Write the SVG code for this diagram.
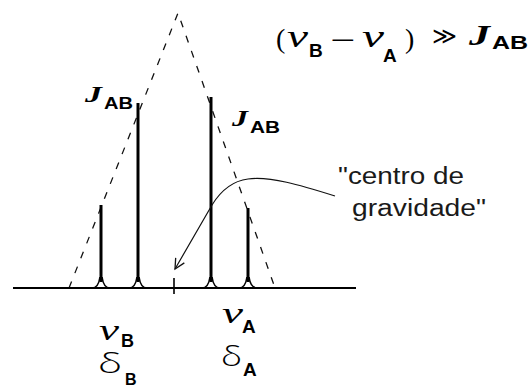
<svg xmlns="http://www.w3.org/2000/svg" width="530" height="387" viewBox="0 0 530 387">
<defs>
<style>
.serif{font-family:"Liberation Serif","Times New Roman",serif;fill:#000}
.it{font-style:italic}
.bi{font-style:italic;font-weight:bold}
.delta{font-family:"Open Sans","Liberation Sans",sans-serif;font-weight:300;fill:#000}
.sub{font-family:"Liberation Sans",Arial,sans-serif;font-weight:bold;fill:#000}
.lbl{font-family:"Liberation Sans",Arial,sans-serif;font-size:23px;fill:#1a1a1a}
.peak{fill:none;stroke:#000;stroke-width:3;stroke-linejoin:round}
.flare{fill:none;stroke:#000;stroke-width:1.6}
.env{fill:none;stroke:#111;stroke-width:1.3;stroke-dasharray:7 9}
</style>
<marker id="open" markerWidth="14" markerHeight="14" refX="11" refY="7" orient="auto" markerUnits="userSpaceOnUse">
<path d="M1,2 L11,7 L1,12" fill="none" stroke="#111" stroke-width="1.3"/>
</marker>
</defs>
<rect width="530" height="387" fill="#fff"/>

<g id="envelope">
<path class="env" d="M69,288 L178,13 L275,288"/>
</g>

<g id="spectrum">
<line x1="13" y1="288" x2="356" y2="288" stroke="#000" stroke-width="2"/>
<line x1="174" y1="278" x2="174" y2="294" stroke="#000" stroke-width="1.6"/>
<g id="peak-B1">
<path class="flare" d="M92,288 C97,288 99,284 100,277 M110,288 C105,288 103,284 102,277"/>
<line class="peak" x1="101" y1="205" x2="101" y2="282"/>
</g>
<g id="peak-B2">
<path class="flare" d="M129,288 C134,288 136,284 137,277 M147,288 C142,288 140,284 139,277"/>
<line class="peak" x1="138" y1="103" x2="138" y2="282"/>
</g>
<g id="peak-A1">
<path class="flare" d="M202,288 C207,288 209,284 210,277 M220,288 C215,288 213,284 212,277"/>
<line class="peak" x1="211" y1="97" x2="211" y2="282"/>
</g>
<g id="peak-A2">
<path class="flare" d="M239,288 C244,288 246,284 247,277 M257,288 C252,288 250,284 249,277"/>
<line class="peak" x1="248" y1="208" x2="248" y2="282"/>
</g>
</g>

<g id="connectors">
<path d="M335,196 C300,185 270,176 248,179 C232,181 220,192 212,205 L175,269" fill="none" stroke="#111" stroke-width="1.2" marker-end="url(#open)"/>
</g>

<g id="formula">
<text class="serif" x="276" y="48" font-size="28">(</text>
<text class="serif it" x="287" y="47" font-size="32" textLength="21" lengthAdjust="spacingAndGlyphs">ν</text>
<text class="sub" x="309" y="57" font-size="19">B</text>
<text class="serif" x="330" y="51" font-size="32" textLength="25" lengthAdjust="spacingAndGlyphs">−</text>
<text class="serif it" x="362" y="47" font-size="32" textLength="22" lengthAdjust="spacingAndGlyphs">ν</text>
<text class="sub" x="383" y="62" font-size="19">A</text>
<text class="serif" x="405" y="48" font-size="28">)</text>
<text x="432" y="44" font-family="DejaVu Sans,sans-serif" font-size="24" textLength="25" lengthAdjust="spacingAndGlyphs">≫</text>
<text class="serif bi" x="469" y="45" font-size="30" textLength="21" lengthAdjust="spacingAndGlyphs">J</text>
<text class="sub" x="492" y="49" font-size="18" textLength="36" lengthAdjust="spacingAndGlyphs">AB</text>
</g>

<g id="label-J-left">
<text class="serif bi" x="85" y="102" font-size="23" textLength="17" lengthAdjust="spacingAndGlyphs">J</text>
<text class="sub" x="104" y="109" font-size="16" textLength="29" lengthAdjust="spacingAndGlyphs">AB</text>
</g>
<g id="label-J-right">
<text class="serif bi" x="232" y="126" font-size="23" textLength="16" lengthAdjust="spacingAndGlyphs">J</text>
<text class="sub" x="250" y="133" font-size="16" textLength="30" lengthAdjust="spacingAndGlyphs">AB</text>
</g>

<g id="label-centro">
<text class="lbl" x="338" y="184" textLength="126" lengthAdjust="spacingAndGlyphs">"centro de</text>
<text class="lbl" x="352" y="216" textLength="134" lengthAdjust="spacingAndGlyphs">gravidade"</text>
</g>

<g id="label-B">
<text class="serif it" x="99" y="340" font-size="30" textLength="20" lengthAdjust="spacingAndGlyphs">ν</text>
<text class="sub" x="121" y="347" font-size="18">B</text>
<text class="delta" x="98" y="373" font-size="27" textLength="24" lengthAdjust="spacingAndGlyphs">δ</text>
<text class="sub" x="125" y="385" font-size="16">B</text>
</g>
<g id="label-A">
<text class="serif it" x="222" y="323" font-size="30" textLength="21" lengthAdjust="spacingAndGlyphs">ν</text>
<text class="sub" x="242" y="333" font-size="19">A</text>
<text class="delta" x="221" y="366" font-size="27" textLength="21" lengthAdjust="spacingAndGlyphs">δ</text>
<text class="sub" x="243" y="376" font-size="19">A</text>
</g>
</svg>
